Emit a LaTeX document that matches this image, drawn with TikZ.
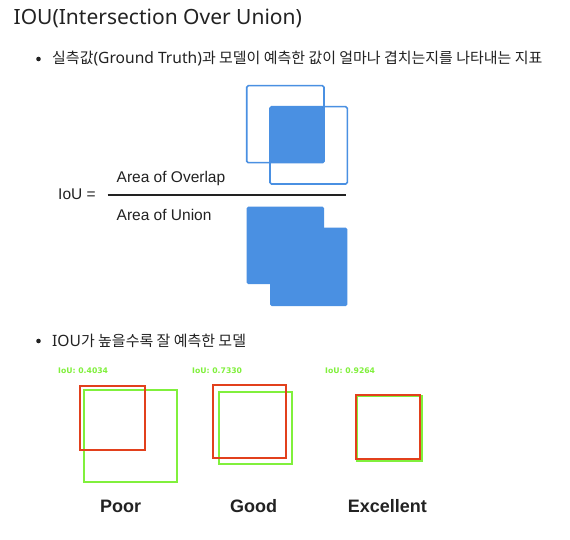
\documentclass[tikz,border=0pt]{standalone}
\usepackage{fontspec}
\setmainfont{Noto Sans}
\newfontfamily\krfont{Noto Sans CJK KR}[Scale=0.96]
\newfontfamily\helvfont{Liberation Sans}
\newfontfamily\dejafont{DejaVu Sans}
\usetikzlibrary{positioning}
\definecolor{iouBlue}{HTML}{4A90E2}
\definecolor{predRed}{HTML}{E2401C}
\definecolor{gtGreen}{HTML}{80F03C}
\definecolor{inkGray}{HTML}{222222}

\begin{document}
\begin{tikzpicture}[x=1pt,y=-1pt,inner sep=0pt,text=inkGray]
		\tikzstyle{bullet}=[circle,fill=inkGray,minimum size=4.6pt]
		\tikzstyle{blueline}=[draw=iouBlue,line width=1.6pt,rounded corners=1.5pt]
		\tikzstyle{bluefill}=[fill=iouBlue,rounded corners=1.5pt]
		\tikzstyle{predbox}=[draw=predRed,line width=2.2pt]
		\tikzstyle{gtbox}=[draw=gtGreen,line width=2.2pt]
		\tikzstyle{score}=[text=gtGreen,font=\dejafont\bfseries\fontsize{7.7}{9}\selectfont,anchor=west]
		\tikzstyle{verdict}=[font=\helvfont\bfseries\fontsize{18}{21}\selectfont]
		\tikzstyle{formula}=[font=\helvfont\fontsize{15.5}{18}\selectfont,anchor=west]
		\tikzstyle{item}=[anchor=west,font=\fontsize{15.6}{18}\selectfont]
		
		\useasboundingbox[fill=white] (0,0) rectangle (570,540);
		
		% title and first bullet
		\node[anchor=west,font=\fontsize{21}{25}\selectfont] (title) at (13.5,18) {IOU(Intersection Over Union)};
		\node[bullet] (b_1) at (38.5,59) {};
		\node[item] (line_1) [right=11pt of b_1] {{\krfont 실측값}(Ground Truth){\krfont 과 모델이 예측한 값이 얼마나 겹치는지를 나타내는 지표}};
		
		% overlap picture
		\draw[bluefill] (270,106.7) rectangle (324,162.7);
		\draw[blueline] (246.7,85.7) rectangle (324,162.7);
		\draw[blueline] (270,106.7) rectangle (347.3,184);
		
		% fraction
		\node[formula] (iou) at (58,194) {IoU =};
		\node[formula] (over) at (116.5,178) {Area of Overlap};
		\node[formula] (union) at (116.5,214.5) {Area of Union};
		\coordinate (rule_l) at (107.7,195);
		\coordinate (rule_r) at (345.7,195);
		\draw[inkGray,line width=1.3pt] (rule_l) -- (rule_r);
		
		% union picture
		\fill[bluefill] (246.7,206.7) rectangle (324,284);
		\fill[bluefill] (270,227.7) rectangle (347.3,306);
		
		% second bullet
		\node[bullet] (b_2) at (38.5,341) {};
		\node[item] (line_2) [right=11pt of b_2] {IOU{\krfont 가 높을수록 잘 예측한 모델}};
		
		% three examples
		\node[score] (s_poor) at (58,371) {IoU: 0.4034};
		\node[score] (s_good) at (192,371) {IoU: 0.7330};
		\node[score] (s_exc) at (325,371) {IoU: 0.9264};
		
		\draw[gtbox] (84,390) rectangle (177,482.3);
		\draw[predbox] (80,385.7) rectangle (144.7,450);
		
		\draw[gtbox] (219.3,392) rectangle (291.7,463.7);
		\draw[predbox] (213,385.3) rectangle (286,458.3);
		
		\draw[gtbox] (357.2,396.2) rectangle (422,460.7);
		\draw[predbox] (355.7,394.7) rectangle (420,459);
		
		\node[verdict] (poor) at (120.5,506) {Poor};
		\node[verdict] (good) at (253.7,506) {Good};
		\node[verdict] (exc) at (387.3,506) {Excellent};
\end{tikzpicture}
\end{document}
